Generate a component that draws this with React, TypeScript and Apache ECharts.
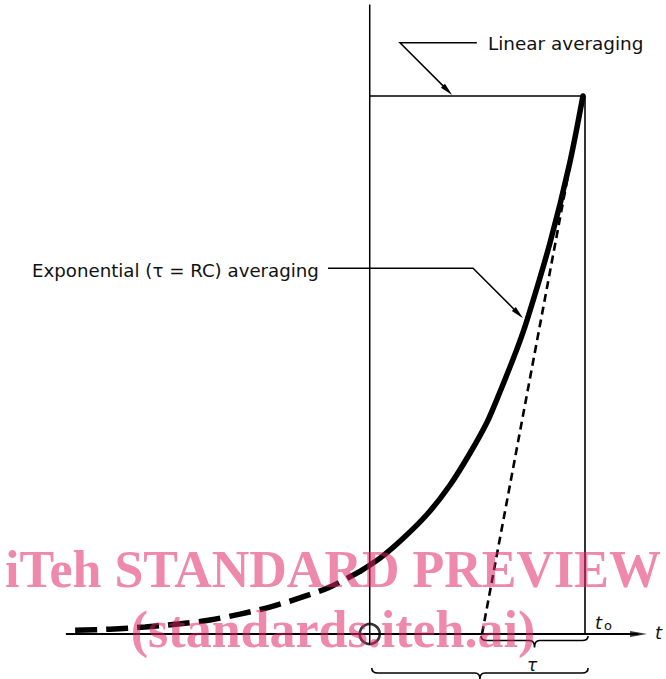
import React, { useEffect, useRef } from "react";
import * as echarts from "echarts";

// time axis in units where tau = 100, t0 = 0 ; level in % of the final value
const dashedCurveT = [-495, -461, -427, -393, -364, -335, -306, -277, -248, -218];
const dashedCurveV = [0.7, 0.9, 1.3, 1.9, 2.6, 3.7, 5.0, 6.7, 8.7, 11.7];
const solidCurveT = [-218, -199, -177, -153, -131, -112, -95, -83, -66, -56, -34, -15, -2];
const solidCurveV = [11.7, 14.1, 17.7, 22.3, 27.7, 33.5, 39.4, 44.8, 53.0, 58.5, 72.7, 87.4, 100];
const tangentT = [-100, -2];
const tangentV = [0, 100];
const windowStart = -209;
const t0 = 0;
const linearLevel = 100;
const windowLineBottom = -2;
const windowLineTop = 117;
const axisStart = -504;
const axisEnd = 52;
// braces: [start, end, row]
const braces = [
  [-101, 3, 0],
  [-207, 3, 1],
];
// leaders: [fromT, fromV, elbowT, elbowV, tipT, tipV]
const leaders = [
  [-105, 109.9, -179.6, 109.9, -129, 100.2],
  [-249.5, 68.0, -108.7, 68.0, -60.2, 58.7],
];
const labelTexts = ["Linear averaging", "Exponential (\u03c4 = RC) averaging"];
const watermark = ["iTeh STANDARD PREVIEW", "(standards.iteh.ai)"];

const zip = (a: number[], b: number[]) => a.map((v, i) => [v, b[i]]);

export default function App() {
  const ref = useRef<HTMLDivElement>(null);
  useEffect(() => {
    if (!ref.current) return;
    const chart = echarts.init(ref.current, null, { renderer: "svg" });
    const black = "#000";
    const font = "DejaVu Sans";
    const wmColor = "rgba(223,37,102,0.54)";
    chart.setOption({
      animation: false,
      backgroundColor: "#fff",
      grid: { left: 18.5, right: 3.75, top: 4.54, bottom: 45, outerBoundsMode: "none" },
      xAxis: { type: "value", min: -550, max: 75, show: false },
      yAxis: { type: "value", min: 0, max: 117, show: false },
      series: [
        {
          type: "line", silent: true, clip: false, symbol: "none",
          data: [[axisStart, 0], [axisEnd, 0]],
          lineStyle: { color: black, width: 1.8 },
        },
        {
          type: "scatter", silent: true, clip: false,
          data: [[axisEnd, 0]], symbol: "triangle", symbolSize: [6, 17], symbolRotate: -90,
          itemStyle: { color: black },
        },
        {
          type: "line", silent: true, clip: false, symbol: "none",
          data: [[windowStart, windowLineBottom], [windowStart, windowLineTop]],
          lineStyle: { color: black, width: 1.5 },
        },
        {
          type: "line", silent: true, clip: false, symbol: "none",
          data: [[windowStart, linearLevel], [t0, linearLevel], [t0, 0]],
          lineStyle: { color: black, width: 1.6 },
        },
        {
          type: "line", silent: true, clip: false, symbol: "none",
          data: zip(tangentT, tangentV),
          lineStyle: { color: black, width: 2.6, type: [8, 5] },
        },
        {
          type: "line", silent: true, clip: false, symbol: "none", smooth: 0.3,
          data: zip(dashedCurveT, dashedCurveV),
          lineStyle: { color: black, width: 5.5, type: [22, 9] },
        },
        {
          type: "line", silent: true, clip: false, symbol: "none", smooth: 0.3,
          data: zip(solidCurveT, solidCurveV),
          lineStyle: { color: black, width: 5.5, cap: "round", join: "round" },
        },
        {
          type: "scatter", silent: true, clip: false,
          data: [[windowStart, 0]], symbol: "circle", symbolSize: 20,
          itemStyle: { color: "rgba(0,0,0,0)", borderColor: black, borderWidth: 2.6 },
        },
        {
          type: "custom", silent: true, clip: false,
          data: braces,
          renderItem: (params: any, api: any) => {
            const a = api.coord([api.value(0), 0]);
            const b = api.coord([api.value(1), 0]);
            const row = api.value(2);
            const y0 = a[1] + (row ? 34 : 2);
            const h = row ? 5 : 4.5;
            const dip = row ? 6 : 7;
            const yh = y0 + h;
            const mid = (a[0] + b[0]) / 2;
            const d =
              `M${a[0]},${y0} Q${a[0]},${yh} ${a[0] + 6},${yh} L${mid - 5},${yh} ` +
              `Q${mid},${yh} ${mid},${yh + dip} Q${mid},${yh} ${mid + 5},${yh} ` +
              `L${b[0] - 6},${yh} Q${b[0]},${yh} ${b[0]},${y0}`;
            return {
              type: "path",
              shape: { pathData: d },
              style: { fill: "none", stroke: black, lineWidth: 1.6 },
            };
          },
        },
        {
          type: "custom", silent: true, clip: false,
          data: leaders,
          renderItem: (params: any, api: any) => {
            const f = api.coord([api.value(0), api.value(1)]);
            const e = api.coord([api.value(2), api.value(3)]);
            const t = api.coord([api.value(4), api.value(5)]);
            const dx = t[0] - e[0];
            const dy = t[1] - e[1];
            const L = Math.hypot(dx, dy);
            const ux = dx / L, uy = dy / L;
            const len = 13, hw = 2.8;
            const bx = t[0] - ux * len, by = t[1] - uy * len;
            const nx = -uy, ny = ux;
            return {
              type: "group",
              children: [
                {
                  type: "polyline",
                  shape: { points: [f, e, [bx + ux * 2, by + uy * 2]] },
                  style: { fill: "none", stroke: black, lineWidth: 1.5 },
                },
                {
                  type: "polygon",
                  shape: { points: [t, [bx + nx * hw, by + ny * hw], [bx - nx * hw, by - ny * hw]] },
                  style: { fill: black },
                },
              ],
            };
          },
        },
      ],
      graphic: [
        {
          type: "text", x: 488, y: 43, z: 50,
          style: { text: labelTexts[0], fontFamily: font, fontSize: 18.4, fill: "#111", verticalAlign: "middle" },
        },
        {
          type: "text", x: 32, y: 270, z: 50,
          style: { text: labelTexts[1], fontFamily: font, fontSize: 18.2, fill: "#111", verticalAlign: "middle" },
        },
        {
          type: "text", x: 595, y: 622, z: 50,
          style: { text: "t", fontFamily: font, fontStyle: "italic", fontSize: 18, fill: "#111", verticalAlign: "middle" },
        },
        {
          type: "text", x: 604, y: 625, z: 50,
          style: { text: "o", fontFamily: font, fontSize: 13, fill: "#111", verticalAlign: "middle" },
        },
        {
          type: "text", x: 655, y: 632, z: 50,
          style: { text: "t", fontFamily: font, fontStyle: "italic", fontSize: 18, fill: "#111", verticalAlign: "middle" },
        },
        {
          type: "text", x: 527, y: 665, z: 50,
          style: { text: "\u03c4", fontFamily: font, fontStyle: "italic", fontSize: 17, fill: "#111", verticalAlign: "middle" },
        },
        {
          type: "text", x: 333, y: 569, z: 100,
          style: {
            text: watermark[0], fontFamily: "Liberation Serif", fontWeight: "bold", fontSize: 52,
            fill: wmColor, align: "center", verticalAlign: "middle",
          },
        },
        {
          type: "text", x: 333, y: 629, z: 100,
          style: {
            text: watermark[1], fontFamily: "Liberation Serif", fontWeight: "bold", fontSize: 52,
            fill: wmColor, align: "center", verticalAlign: "middle",
          },
        },
      ],
    });
    return () => chart.dispose();
  }, []);
  return (
    <div
      ref={ref}
      style={{ position: "absolute", left: 0, top: 0, width: 666, height: 679, background: "#fff" }}
    />
  );
}
